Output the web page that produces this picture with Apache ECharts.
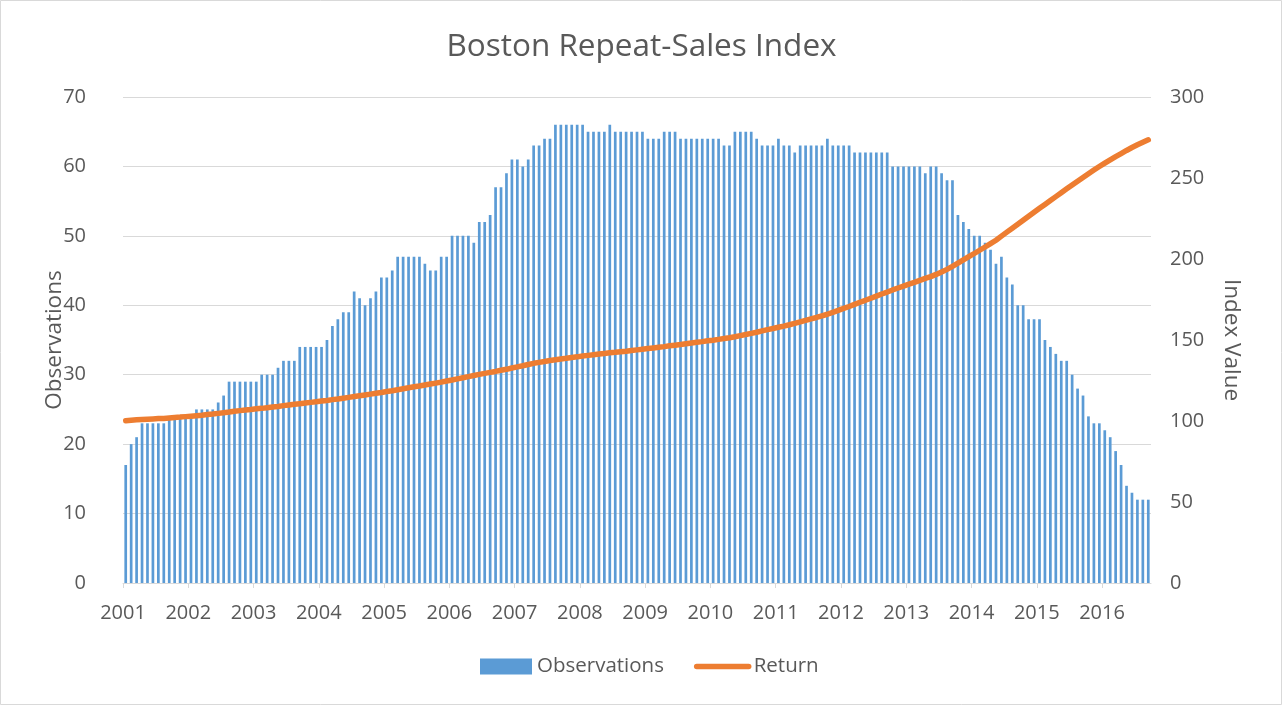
<!DOCTYPE html>
<html>
<head>
<meta charset="utf-8">
<title>Boston Repeat-Sales Index</title>
<script src="https://cdn.jsdelivr.net/npm/echarts@6/dist/echarts.min.js"></script>
<style>
  html, body { margin: 0; padding: 0; background: #fff; }
  #chart { width: 1283px; height: 706px; }
</style>
</head>
<body>
<div id="chart"></div>
<script>
// 起始年份，每月一个数据点（2001-01 到 2016-09）
const startYear = 2001;
const yearLabels = [2001, 2002, 2003, 2004, 2005, 2006, 2007, 2008,
  2009, 2010, 2011, 2012, 2013, 2014, 2015, 2016];

// 每月观测数（柱状）
const observations = [
  17, 20, 21, 23, 23, 23, 23, 23, 24, 24, 24, 24,
  24, 25, 25, 25, 25, 26, 27, 29, 29, 29, 29, 29,
  29, 30, 30, 30, 31, 32, 32, 32, 34, 34, 34, 34,
  34, 35, 37, 38, 39, 39, 42, 41, 40, 41, 42, 44,
  44, 45, 47, 47, 47, 47, 47, 46, 45, 45, 47, 47,
  50, 50, 50, 50, 49, 52, 52, 53, 57, 57, 59, 61,
  61, 60, 61, 63, 63, 64, 64, 66, 66, 66, 66, 66,
  66, 65, 65, 65, 65, 66, 65, 65, 65, 65, 65, 65,
  64, 64, 64, 65, 65, 65, 64, 64, 64, 64, 64, 64,
  64, 64, 63, 63, 65, 65, 65, 65, 64, 63, 63, 63,
  64, 63, 63, 62, 63, 63, 63, 63, 63, 64, 63, 63,
  63, 63, 62, 62, 62, 62, 62, 62, 62, 60, 60, 60,
  60, 60, 60, 59, 60, 60, 59, 58, 58, 53, 52, 51,
  50, 50, 49, 48, 46, 47, 44, 43, 40, 40, 38, 38,
  38, 35, 34, 33, 32, 32, 30, 28, 27, 24, 23, 23,
  22, 21, 19, 17, 14, 13, 12, 12, 12
];

// 每月指数值（折线，右轴）
const indexReturn = [
  100.2, 100.5, 100.7, 100.9, 101.1, 101.3, 101.5, 101.6, 101.9, 102.2, 102.4, 102.7,
  103.0, 103.3, 103.6, 104.0, 104.3, 104.7, 105.1, 105.5, 106.0, 106.4, 106.8, 107.1,
  107.5, 107.8, 108.2, 108.6, 109.0, 109.5, 109.9, 110.3, 110.7, 111.1, 111.5, 111.9,
  112.3, 112.7, 113.2, 113.6, 114.1, 114.6, 115.1, 115.6, 116.1, 116.6, 117.1, 117.6,
  118.2, 118.7, 119.3, 119.9, 120.5, 121.1, 121.6, 122.2, 122.8, 123.4, 124.0, 124.7,
  125.3, 126.0, 126.7, 127.4, 128.1, 128.8, 129.4, 130.0, 130.6, 131.3, 131.9, 132.7,
  133.4, 134.1, 134.9, 135.6, 136.2, 136.7, 137.3, 137.8, 138.3, 138.7, 139.2, 139.6,
  140.1, 140.5, 140.9, 141.3, 141.7, 142.1, 142.4, 142.8, 143.1, 143.5, 143.9, 144.3,
  144.7, 145.1, 145.5, 145.9, 146.4, 146.8, 147.2, 147.7, 148.2, 148.6, 149.0, 149.5,
  149.9, 150.4, 150.9, 151.4, 152.0, 152.7, 153.4, 154.1, 154.8, 155.6, 156.4, 157.1,
  157.9, 158.6, 159.4, 160.3, 161.2, 162.1, 163.0, 163.9, 164.9, 165.9, 167.1, 168.3,
  169.5, 170.7, 172.0, 173.3, 174.5, 175.8, 177.1, 178.4, 179.6, 180.9, 182.1, 183.3,
  184.5, 185.6, 186.8, 188.0, 189.1, 190.5, 192.0, 193.6, 195.5, 197.4, 199.4, 201.4,
  203.4, 205.4, 207.4, 209.5, 211.6, 214.1, 216.6, 219.0, 221.4, 223.9, 226.4, 228.9,
  231.3, 233.7, 236.1, 238.5, 240.9, 243.3, 245.7, 248.0, 250.3, 252.6, 254.9, 257.1,
  259.2, 261.2, 263.2, 265.1, 267.0, 268.8, 270.5, 272.1, 273.6
];

const textColor = "#595959";
const gridColor = "#D9D9D9";
const fontFamily = "'Open Sans', sans-serif";

const chart = echarts.init(document.getElementById("chart"));

// x 轴用数值轴：0 = 2001年1月初，每 12 个单位一年，柱子放在月中
const monthCount = observations.length;
const yearTicks = yearLabels.map((y) => (y - startYear) * 12);
const barData = observations.map((v, i) => [i + 0.5, v]);
const lineData = indexReturn.map((v, i) => [i + 0.5, v]);

const option = {
  backgroundColor: "#fff",
  animation: false,
  textStyle: { fontFamily: fontFamily },
  graphic: [
    {
      type: "rect",
      shape: { x: 0.5, y: 0.5, width: 1281, height: 704 },
      style: { fill: "none", stroke: gridColor, lineWidth: 1 },
      silent: true,
    },
  ],
  title: {
    text: "Boston Repeat-Sales Index",
    left: "center",
    top: 26,
    textStyle: {
      color: textColor,
      fontSize: 31.5,
      fontWeight: "normal",
      fontFamily: fontFamily,
    },
  },
  grid: {
    left: 123,
    right: 132,
    top: 97,
    bottom: 123,
  },
  legend: {
    bottom: 24,
    left: 475,
    itemWidth: 52,
    itemHeight: 16,
    itemGap: 30,
    textStyle: { color: textColor, fontSize: 20.5, fontFamily: fontFamily },
    data: [
      { name: "Observations", icon: "rect" },
      // 隐藏折线图例中间的圆点，只留粗线
      {
        name: "Return",
        itemStyle: { opacity: 0 },
        lineStyle: { width: 5.5, color: "#ED7D31", cap: "round" },
      },
    ],
  },
  xAxis: {
    type: "value",
    min: 0,
    max: monthCount,
    interval: 12,
    axisLine: { show: true, lineStyle: { color: gridColor, width: 1 } },
    axisTick: {
      show: true,
      length: 5,
      lineStyle: { color: gridColor },
      customValues: yearTicks,
    },
    axisLabel: {
      color: textColor,
      fontSize: 20,
      margin: 20,
      customValues: yearTicks,
      formatter: (v) => String(startYear + Math.round(v / 12)),
    },
    splitLine: { show: false },
  },
  yAxis: [
    {
      type: "value",
      min: 0,
      max: 70,
      interval: 10,
      name: "Observations",
      nameLocation: "middle",
      nameGap: 57,
      nameMoveOverlap: false,
      nameTextStyle: { color: textColor, fontSize: 22.5, fontFamily: fontFamily },
      axisLine: { show: false },
      axisTick: { show: false },
      axisLabel: { color: textColor, fontSize: 20, margin: 37 },
      splitLine: { lineStyle: { color: gridColor, width: 1 } },
    },
    {
      type: "value",
      min: 0,
      max: 300,
      interval: 50,
      name: "Index Value",
      nameLocation: "middle",
      nameGap: 69,
      nameRotate: -90,
      nameTextStyle: { color: textColor, fontSize: 22.5, fontFamily: fontFamily },
      axisLine: { show: false },
      axisTick: { show: false },
      axisLabel: { color: textColor, fontSize: 20, margin: 19 },
      splitLine: { show: false },
    },
  ],
  series: [
    {
      name: "Observations",
      type: "bar",
      yAxisIndex: 0,
      barWidth: 2.7,
      itemStyle: { color: "#5B9BD5" },
      data: barData,
    },
    {
      name: "Return",
      type: "line",
      yAxisIndex: 1,
      showSymbol: false,
      symbol: "none",
      z: 5,
      lineStyle: { color: "#ED7D31", width: 5.5, cap: "round", join: "round" },
      itemStyle: { color: "#ED7D31" },
      data: lineData,
    },
  ],
};

chart.setOption(option);
</script>
</body>
</html>
